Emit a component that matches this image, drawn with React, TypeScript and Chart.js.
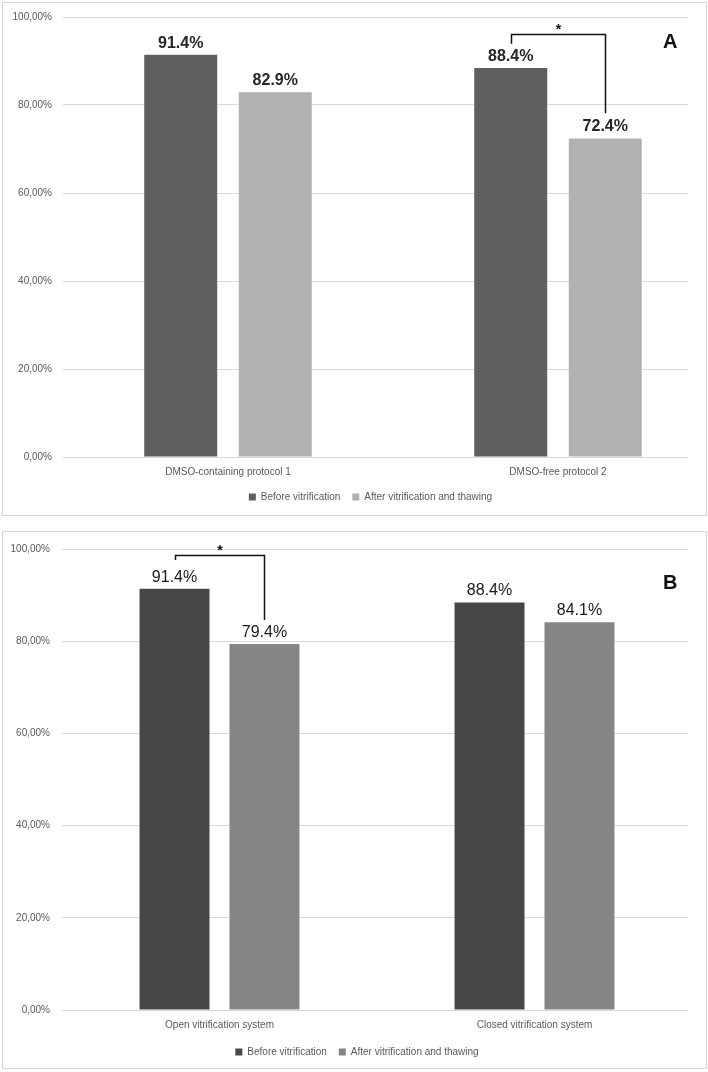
import React, { useEffect, useRef } from 'react';
import { Chart, registerables } from 'chart.js';

Chart.register(...registerables);

// ---------- data ----------
const seriesNames = ['Before vitrification', 'After vitrification and thawing'];

const categoriesA = ['DMSO-containing protocol 1', 'DMSO-free protocol 2'];
const beforeA = [91.4, 88.4];
const afterA = [82.9, 72.4];

const categoriesB = ['Open vitrification system', 'Closed vitrification system'];
const beforeB = [91.4, 88.4];
const afterB = [79.4, 84.1];

const yMin = 0;
const yMax = 100;
const yStep = 20;

// significance brackets (values in %): category index, bracket level, left end, right end
const bracketA = { index: 1, level: 96.2, leftEnd: 93.9, rightEnd: 78.1 };
const bracketB = { index: 0, level: 98.7, leftEnd: 97.6, rightEnd: 84.6 };

const FONT = "'Liberation Sans', Arial, sans-serif";

type Bracket = { index: number; level: number; leftEnd: number; rightEnd: number };

type PanelCfg = {
  categories: string[];
  before: number[];
  after: number[];
  colors: [string, string];
  bracket: Bracket;
  labelFont: string;
  labelColor: string;
  canvasW: number;
  canvasH: number;
  top: number;
  padTop: number;
  padBottom: number;
  padRight: number;
  yWidth: number;
  yPad: number;
  xHeight: number;
  catPct: number;
  barPct: number;
  legendShift: number;
};

function ChartPanel({ cfg }: { cfg: PanelCfg }) {
  const ref = useRef<HTMLCanvasElement | null>(null);
  useEffect(() => {
    if (!ref.current) return;
    const labelsPlugin = {
      id: 'valueLabels',
      afterDatasetsDraw(chart: any) {
        const ctx = chart.ctx;
        ctx.save();
        ctx.font = cfg.labelFont;
        ctx.fillStyle = cfg.labelColor;
        ctx.textAlign = 'center';
        ctx.textBaseline = 'alphabetic';
        chart.data.datasets.forEach((ds: any, di: number) => {
          const meta = chart.getDatasetMeta(di);
          meta.data.forEach((bar: any, i: number) => {
            const v = ds.data[i] as number;
            ctx.fillText(v.toFixed(1) + '%', bar.x, bar.y - 7);
          });
        });
        ctx.restore();
      },
    };
    const bracketPlugin = {
      id: 'sigBracket',
      afterDatasetsDraw(chart: any) {
        const br = cfg.bracket;
        const ctx = chart.ctx;
        const ys = chart.scales.y;
        const b0 = chart.getDatasetMeta(0).data[br.index];
        const b1 = chart.getDatasetMeta(1).data[br.index];
        const x1 = Math.round(b0.x) + 0.5;
        const x2 = Math.round(b1.x) + 0.5;
        const yTop = Math.round(ys.getPixelForValue(br.level)) + 0.5;
        const yL = ys.getPixelForValue(br.leftEnd);
        const yR = ys.getPixelForValue(br.rightEnd);
        ctx.save();
        ctx.strokeStyle = '#111111';
        ctx.lineWidth = 1.5;
        ctx.beginPath();
        ctx.moveTo(x1, yL);
        ctx.lineTo(x1, yTop);
        ctx.lineTo(x2, yTop);
        ctx.lineTo(x2, yR);
        ctx.stroke();
        ctx.fillStyle = '#111111';
        ctx.font = 'bold 14px ' + FONT;
        ctx.textAlign = 'center';
        ctx.textBaseline = 'alphabetic';
        ctx.fillText('*', (x1 + x2) / 2, yTop - 1);
        ctx.restore();
      },
    };
    const legendShiftPlugin = {
      id: 'legendShift',
      afterLayout(chart: any) {
        if (chart.legend) {
          chart.legend.left += cfg.legendShift;
          chart.legend.right += cfg.legendShift;
        }
      },
    };
    const tickFont = { family: FONT, size: 10 };
    const chart = new Chart(ref.current, {
      type: 'bar',
      data: {
        labels: cfg.categories,
        datasets: [
          {
            label: seriesNames[0],
            data: cfg.before,
            backgroundColor: cfg.colors[0],
            borderWidth: 0,
            categoryPercentage: cfg.catPct,
            barPercentage: cfg.barPct,
          },
          {
            label: seriesNames[1],
            data: cfg.after,
            backgroundColor: cfg.colors[1],
            borderWidth: 0,
            categoryPercentage: cfg.catPct,
            barPercentage: cfg.barPct,
          },
        ],
      },
      options: {
        animation: false,
        responsive: false,
        maintainAspectRatio: false,
        layout: {
          padding: { top: cfg.padTop, bottom: cfg.padBottom, left: 0, right: cfg.padRight },
        },
        plugins: {
          legend: {
            position: 'bottom',
            labels: {
              boxWidth: 7,
              boxHeight: 7,
              padding: 12,
              color: '#595959',
              font: tickFont,
            },
          },
          tooltip: { enabled: false },
        },
        scales: {
          x: {
            grid: { display: false, drawTicks: false },
            border: { display: true, color: '#d9d9d9' },
            ticks: { color: '#595959', font: tickFont, padding: 9, maxRotation: 0 },
            afterFit: (s: any) => {
              s.height = cfg.xHeight;
            },
          },
          y: {
            min: yMin,
            max: yMax,
            ticks: {
              stepSize: yStep,
              color: '#595959',
              font: tickFont,
              padding: cfg.yPad,
              callback: (v: any) => Number(v).toFixed(2).replace('.', ',') + '%',
            },
            grid: { color: '#d9d9d9', drawTicks: false },
            border: { display: false },
            afterFit: (s: any) => {
              s.width = cfg.yWidth;
            },
          },
        },
      },
      plugins: [labelsPlugin, bracketPlugin, legendShiftPlugin],
    } as any);
    return () => chart.destroy();
  }, [cfg]);

  return (
    <div
      style={{
        position: 'absolute',
        left: 0,
        top: cfg.top,
        width: 688,
        height: cfg.canvasH,
        overflow: 'hidden',
      }}
    >
      <canvas
        ref={ref}
        width={cfg.canvasW}
        height={cfg.canvasH}
        style={{ width: cfg.canvasW, height: cfg.canvasH, display: 'block' }}
      />
    </div>
  );
}

const cfgA: PanelCfg = {
  categories: categoriesA,
  before: beforeA,
  after: afterA,
  colors: ['#5f5f5f', '#b1b1b1'],
  bracket: bracketA,
  labelFont: 'bold 16px ' + FONT,
  labelColor: '#262626',
  canvasW: 730,
  canvasH: 516,
  top: 0,
  padTop: 15,
  padBottom: 4,
  padRight: 7,
  yWidth: 63,
  yPad: 11,
  xHeight: 23,
  catPct: 0.573,
  barPct: 0.772,
  legendShift: 9,
};

const cfgB: PanelCfg = {
  categories: categoriesB,
  before: beforeB,
  after: afterB,
  colors: ['#474747', '#858585'],
  bracket: bracketB,
  labelFont: '16px ' + FONT,
  labelColor: '#1a1a1a',
  canvasW: 708,
  canvasH: 538,
  top: 531,
  padTop: 17,
  padBottom: 2,
  padRight: 16,
  yWidth: 62,
  yPad: 12,
  xHeight: 25,
  catPct: 0.571,
  barPct: 0.778,
  legendShift: 11,
};

export default function App() {
  return (
    <div
      style={{
        position: 'absolute',
        left: 0,
        top: 0,
        width: 708,
        height: 1072,
        background: '#ffffff',
        fontFamily: FONT,
        overflow: 'hidden',
      }}
    >
      <div
        style={{
          position: 'absolute',
          left: 2,
          top: 2,
          width: 705,
          height: 514,
          border: '1px solid #d4d4d4',
          boxSizing: 'border-box',
        }}
      />
      <div
        style={{
          position: 'absolute',
          left: 2,
          top: 531,
          width: 705,
          height: 538,
          border: '1px solid #d4d4d4',
          boxSizing: 'border-box',
        }}
      />
      <ChartPanel cfg={cfgA} />
      <ChartPanel cfg={cfgB} />
      <div
        style={{
          position: 'absolute',
          left: 663,
          top: 29,
          fontSize: 20,
          fontWeight: 'bold',
          lineHeight: '24px',
          color: '#111111',
        }}
      >
        A
      </div>
      <div
        style={{
          position: 'absolute',
          left: 663,
          top: 570,
          fontSize: 20,
          fontWeight: 'bold',
          lineHeight: '24px',
          color: '#111111',
        }}
      >
        B
      </div>
    </div>
  );
}
